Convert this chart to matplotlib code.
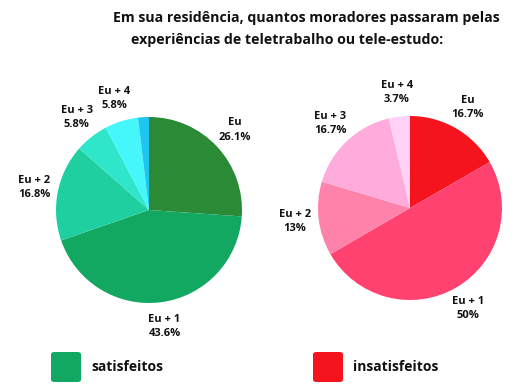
import matplotlib
matplotlib.use('Agg')

import matplotlib.pyplot as plt
from matplotlib.patches import FancyBboxPatch

plt.rcParams['font.family'] = ['Open Sans', 'DejaVu Sans']

# ============================================================
# DATA
# ============================================================

sat_labels = ['Eu', 'Eu + 1', 'Eu + 2', 'Eu + 3', 'Eu + 4', '']
sat_values = [26.1, 43.6, 16.8, 5.8, 5.8, 1.9]
sat_colors = ['#2b8a35', '#12a862', '#1fcf9f', '#2fe6cb', '#45f6fb', '#1ec6ef']

ins_labels = ['Eu', 'Eu + 1', 'Eu + 2', 'Eu + 3', 'Eu + 4']
ins_values = [16.7, 50, 13, 16.7, 3.7]
ins_colors = ['#f5141e', '#ff4270', '#ff82aa', '#ffacdd', '#ffd2f6']

legend_names = ['satisfeitos', 'insatisfeitos']
legend_colors = ['#12a862', '#f5141e']

title_lines = ['Em sua residência, quantos moradores passaram pelas',
               'experiências de teletrabalho ou tele-estudo:']

W, H = 528, 392

# ============================================================
# HELPERS
# ============================================================

def pie_axes(fig, cx, cy, r):
    ax = fig.add_axes([(cx - r) / W, (H - cy - r) / H, 2 * r / W, 2 * r / H])
    ax.axis('off')
    return ax

def draw_pie(ax, values, labels, colors):
    texts = [f'{l}\n{v:g}%' if l else '' for l, v in zip(labels, values)]
    wedges, lbls = ax.pie(values, labels=texts, colors=colors, startangle=90,
                          counterclock=False, labeldistance=1.26,
                          wedgeprops=dict(linewidth=0),
                          textprops=dict(fontsize=8, fontweight='bold',
                                         color='#111111', linespacing=1.4))
    for t in lbls:
        t.set_ha('center')
        t.set_va('center')
        t.set_clip_on(False)
    ax.set_xlim(-1, 1)
    ax.set_ylim(-1, 1)

# ============================================================
# FIGURE
# ============================================================

fig = plt.figure(figsize=(W / 100, H / 100), dpi=100)
fig.patch.set_facecolor('white')

ax1 = pie_axes(fig, 149, 210, 93)
draw_pie(ax1, sat_values, sat_labels, sat_colors)

ax2 = pie_axes(fig, 410, 208, 92)
draw_pie(ax2, ins_values, ins_labels, ins_colors)

fig.text(306 / W, 1 - 18 / H, title_lines[0], ha='center', va='center',
         fontsize=10.2, fontweight='bold', color='#111111')
fig.text(287 / W, 1 - 40 / H, title_lines[1], ha='center', va='center',
         fontsize=10.2, fontweight='bold', color='#111111')

# legend squares
for x0, name, c in zip([51, 313], legend_names, legend_colors):
    fig.patches.append(FancyBboxPatch((x0 / W, 1 - 382 / H), 30 / W, 30 / H,
                                      boxstyle='round,pad=0,rounding_size=0.006',
                                      transform=fig.transFigure, fc=c, ec='none'))
    fig.text((x0 + 40) / W, 1 - 367 / H, name, ha='left', va='center',
             fontsize=10, fontweight='bold', color='#111111')

plt.savefig('out.png', dpi=100)
plt.close()
